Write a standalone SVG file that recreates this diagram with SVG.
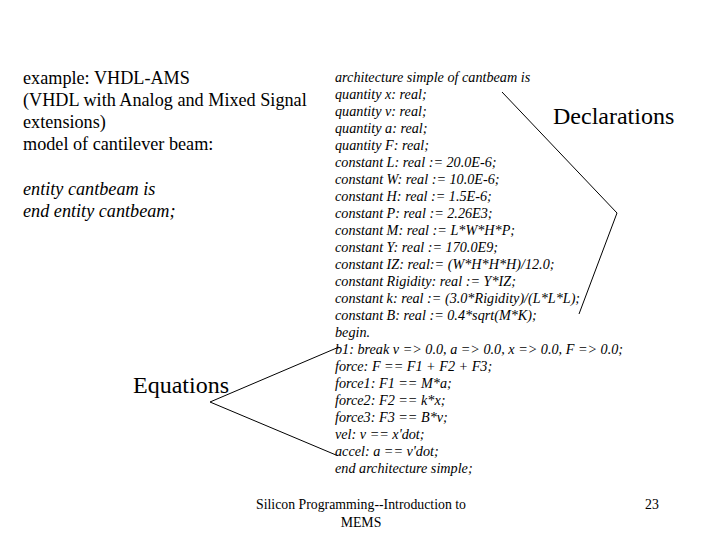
<svg xmlns="http://www.w3.org/2000/svg" width="720" height="540" viewBox="0 0 720 540">
<style>
text{font-family:"Liberation Serif","Times New Roman",Times,serif}
.c{font-size:14.2px;font-style:italic}
.l{font-size:18.2px}
.b{font-size:24px}
.f{font-size:13.8px}
line{stroke:#000;stroke-width:1}
</style>
<rect width="720" height="540" fill="#fff"/>
<g id="intro" class="l">
<text x="23" y="84">example: VHDL-AMS</text>
<text x="23" y="106">(VHDL with Analog and Mixed Signal</text>
<text x="23" y="128">extensions)</text>
<text x="23" y="150">model of cantilever beam:</text>
<text x="23" y="195" font-style="italic">entity cantbeam is</text>
<text x="23" y="217" font-style="italic">end entity cantbeam;</text>
</g>
<g id="code" class="c">
<text x="335" y="82">architecture simple of cantbeam is</text>
<text x="335" y="99">quantity x: real;</text>
<text x="335" y="116">quantity v: real;</text>
<text x="335" y="133">quantity a: real;</text>
<text x="335" y="150">quantity F: real;</text>
<text x="335" y="167">constant L: real := 20.0E-6;</text>
<text x="335" y="184">constant W: real := 10.0E-6;</text>
<text x="335" y="201">constant H: real := 1.5E-6;</text>
<text x="335" y="218">constant P: real := 2.26E3;</text>
<text x="335" y="235">constant M: real := L*W*H*P;</text>
<text x="335" y="252">constant Y: real := 170.0E9;</text>
<text x="335" y="269">constant IZ: real:= (W*H*H*H)/12.0;</text>
<text x="335" y="286">constant Rigidity: real := Y*IZ;</text>
<text x="335" y="303">constant k: real := (3.0*Rigidity)/(L*L*L);</text>
<text x="335" y="320">constant B: real := 0.4*sqrt(M*K);</text>
<text x="335" y="337">begin.</text>
<text x="335" y="354">b1: break v =&gt; 0.0, a =&gt; 0.0, x =&gt; 0.0, F =&gt; 0.0;</text>
<text x="335" y="371">force: F == F1 + F2 + F3;</text>
<text x="335" y="388">force1: F1 == M*a;</text>
<text x="335" y="405">force2: F2 == k*x;</text>
<text x="335" y="422">force3: F3 == B*v;</text>
<text x="335" y="439">vel: v == x'dot;</text>
<text x="335" y="456">accel: a == v'dot;</text>
<text x="335" y="473">end architecture simple;</text>
</g>
<g id="declarations" class="b"><text x="553" y="124">Declarations</text></g>
<g id="equations" class="b"><text x="133" y="393">Equations</text></g>
<g id="connectors">
<line x1="502" y1="92" x2="617" y2="213"/>
<line x1="617" y1="213" x2="579" y2="314"/>
<line x1="339" y1="347" x2="210" y2="402"/>
<line x1="210" y1="402" x2="336" y2="455"/>
</g>
<g id="footer" class="f">
<text x="361" y="509" text-anchor="middle">Silicon Programming--Introduction to</text>
<text x="361" y="527" text-anchor="middle">MEMS</text>
<text x="645" y="509">23</text>
</g>
</svg>
